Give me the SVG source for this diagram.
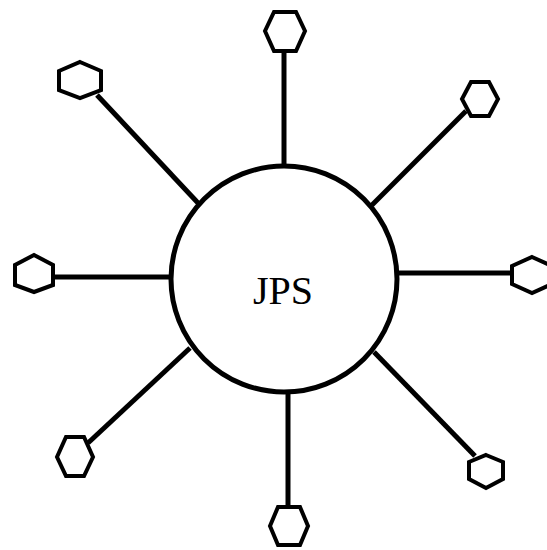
<svg xmlns="http://www.w3.org/2000/svg" width="547" height="550" viewBox="0 0 547 550">
  <style>
    .link { stroke: #000; stroke-width: 5; fill: none; }
    .hex { fill: #fff; stroke: #000; stroke-width: 4; stroke-linejoin: miter; }
    .hub { fill: #fff; stroke: #000; stroke-width: 5; }
    .label { font-family: "Liberation Serif", "Times New Roman", serif; font-size: 40px; fill: #000; }
  </style>
  <rect width="547" height="550" fill="#fff"/>

  <!-- spokes from the hub to each peer -->
  <g id="connectors">
    <line class="link" x1="284" y1="53" x2="284" y2="166"/>
    <line class="link" x1="97" y1="95" x2="198" y2="203"/>
    <line class="link" x1="466" y1="111" x2="372" y2="205"/>
    <line class="link" x1="54" y1="277" x2="171" y2="277"/>
    <line class="link" x1="397" y1="273" x2="512" y2="273"/>
    <line class="link" x1="88" y1="443" x2="190" y2="348"/>
    <line class="link" x1="374" y1="352" x2="475" y2="456"/>
    <line class="link" x1="288" y1="391" x2="288" y2="507"/>
  </g>

  <g id="hub">
    <circle class="hub" cx="284" cy="279" r="113"/>
    <text class="label" x="283" y="304" text-anchor="middle">JPS</text>
  </g>

  <g id="peer-top">
    <polygon class="hex" points="274,12 296,12 305,31 296,51 274,51 265,31"/>
  </g>
  <g id="peer-top-left">
    <polygon class="hex" points="80,62 101,71 101,90 80,98 59,90 59,71"/>
  </g>
  <g id="peer-top-right">
    <polygon class="hex" points="471,82 489,82 498,99 489,116 471,116 462,99"/>
  </g>
  <g id="peer-left">
    <polygon class="hex" points="34,255 53,265 53,285 34,292 15,285 15,265"/>
  </g>
  <g id="peer-right">
    <polygon class="hex" points="532,257 552,266 552,284 532,293 512,284 512,266"/>
  </g>
  <g id="peer-bottom-left">
    <polygon class="hex" points="66,437 84,437 93,457 84,476 66,476 57,457"/>
  </g>
  <g id="peer-bottom-right">
    <polygon class="hex" points="486,455 503,462 503,479 486,488 469,479 469,462"/>
  </g>
  <g id="peer-bottom">
    <polygon class="hex" points="278,507 300,507 308,526 300,545 278,545 270,526"/>
  </g>
</svg>
